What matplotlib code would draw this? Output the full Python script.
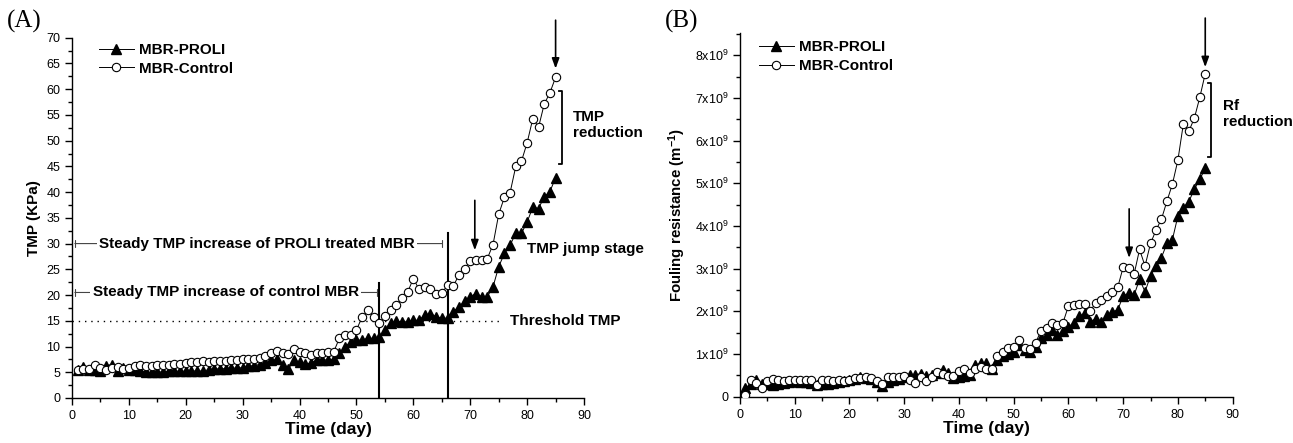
import matplotlib
matplotlib.use("Agg")
import matplotlib.pyplot as plt
from matplotlib.ticker import MultipleLocator, FuncFormatter

plt.rcParams['font.family'] = ['Liberation Sans', 'DejaVu Sans']
plt.rcParams['mathtext.default'] = 'regular'

days = list(range(1, 86))

tmp_control = [5.5, 5.7, 5.6, 6.4, 5.8, 5.5, 5.8, 6.0, 5.6, 5.9, 6.2, 6.5, 6.3, 6.3, 6.4, 6.4, 6.5, 6.6, 6.6, 6.8,
               6.9, 7.0, 7.1, 6.9, 7.1, 7.2, 7.2, 7.3, 7.4, 7.6, 7.5, 7.6, 7.8, 8.2, 8.8, 9.1, 8.8, 8.6, 9.6, 9.0,
               8.7, 8.3, 8.8, 8.8, 8.9, 9.0, 11.6, 12.2, 12.2, 13.2, 15.8, 17.0, 15.8, 14.6, 15.9, 17.0, 18.1, 19.4,
               20.6, 23.2, 21.1, 21.5, 21.1, 20.3, 20.4, 21.9, 21.7, 23.9, 25.0, 26.7, 26.9, 26.8, 27.1, 29.8, 35.7,
               39.0, 39.9, 45.0, 46.0, 49.6, 54.3, 52.6, 57.1, 59.3, 62.3]
tmp_proli = [5.5, 6.1, 5.5, 5.5, 5.3, 6.3, 6.5, 5.2, 5.8, 5.5, 5.5, 5.3, 5.0, 5.0, 5.0, 5.1, 5.2, 5.2, 5.2, 5.2,
             5.2, 5.3, 5.2, 5.5, 5.6, 5.7, 5.7, 5.8, 5.8, 5.9, 6.2, 6.3, 6.5, 6.8, 7.3, 7.5, 6.5, 5.6, 7.3, 7.0,
             6.6, 6.8, 7.4, 7.4, 7.4, 7.5, 8.7, 10.0, 10.9, 11.2, 11.3, 11.6, 11.6, 11.8, 13.2, 14.6, 14.9, 14.8,
             14.8, 15.1, 15.1, 16.1, 16.4, 15.8, 15.5, 15.5, 16.8, 17.7, 18.8, 19.7, 20.3, 19.7, 19.7, 21.6, 25.5,
             28.1, 29.7, 32.0, 32.0, 34.2, 37.1, 36.8, 39.1, 40.1, 42.8]

rf_control = [0.04, 0.39, 0.33, 0.20, 0.37, 0.41, 0.38, 0.37, 0.40, 0.40, 0.40, 0.40, 0.40, 0.27, 0.40, 0.38, 0.37,
              0.40, 0.37, 0.40, 0.43, 0.43, 0.45, 0.43, 0.37, 0.30, 0.46, 0.45, 0.46, 0.48, 0.40, 0.31, 0.45, 0.37,
              0.47, 0.59, 0.54, 0.48, 0.48, 0.61, 0.66, 0.55, 0.66, 0.70, 0.64, 0.64, 0.95, 1.05, 1.13, 1.17, 1.33,
              1.13, 1.11, 1.26, 1.55, 1.60, 1.72, 1.68, 1.73, 2.12, 2.15, 2.17, 2.17, 2.01, 2.20, 2.26, 2.37, 2.46,
              2.56, 3.03, 3.01, 2.87, 3.45, 3.06, 3.59, 3.90, 4.16, 4.58, 4.98, 5.54, 6.39, 6.22, 6.52, 7.01, 7.57]
rf_proli = [0.20, 0.30, 0.39, 0.30, 0.30, 0.28, 0.30, 0.32, 0.35, 0.36, 0.35, 0.35, 0.33, 0.28, 0.30, 0.30, 0.32,
            0.34, 0.36, 0.38, 0.42, 0.47, 0.44, 0.42, 0.35, 0.25, 0.35, 0.38, 0.42, 0.45, 0.50, 0.52, 0.53, 0.48,
            0.50, 0.55, 0.62, 0.55, 0.43, 0.45, 0.48, 0.50, 0.74, 0.78, 0.78, 0.66, 0.86, 0.95, 1.01, 1.05, 1.21,
            1.09, 1.05, 1.17, 1.37, 1.44, 1.56, 1.44, 1.55, 1.64, 1.73, 1.89, 1.95, 1.76, 1.83, 1.76, 1.91, 1.99,
            2.03, 2.36, 2.42, 2.38, 2.75, 2.46, 2.83, 3.06, 3.26, 3.59, 3.68, 4.23, 4.43, 4.57, 4.86, 5.09, 5.35]
rf_scale = 1e9

fig = plt.figure(figsize=(12.93, 4.43), dpi=100)
axA = fig.add_axes([0.0557, 0.1016, 0.396, 0.8133])
axB = fig.add_axes([0.5723, 0.1045, 0.381, 0.821])


def style_axes(ax):
    ax.spines['top'].set_visible(False)
    ax.spines['right'].set_visible(False)
    for s in ('left', 'bottom'):
        ax.spines[s].set_linewidth(1.0)
    ax.tick_params(which='major', direction='out', length=5, width=1, labelsize=9)
    ax.tick_params(which='minor', direction='out', length=3, width=1)
    ax.set_xlim(0, 90)
    ax.xaxis.set_major_locator(MultipleLocator(10))
    ax.xaxis.set_minor_locator(MultipleLocator(5))
    ax.set_xlabel('Time (day)', fontsize=12.5, fontweight='bold', labelpad=0)


def plot_series(ax, yp, yc, anchor):
    ax.plot(days, yp, '-', color='black', lw=0.7, marker='^', ms=6.8, mfc='black', mec='black',
            label='MBR-PROLI', zorder=3)
    ax.plot(days, yc, '-', color='black', lw=0.7, marker='o', ms=6.0, mfc='white', mec='black', mew=0.8,
            label='MBR-Control', zorder=4)
    leg = ax.legend(loc='upper left', bbox_to_anchor=anchor, frameon=False, fontsize=11,
                    handlelength=2.3, handletextpad=0.33, labelspacing=0.3, borderaxespad=0, borderpad=0)
    for t in leg.get_texts():
        t.set_fontweight('bold')


def down_arrow(ax, x, y0, y1):
    ax.annotate('', xy=(x, y1), xytext=(x, y0),
                arrowprops=dict(arrowstyle='-|>,head_length=0.6,head_width=0.22', lw=1.2, color='black',
                                shrinkA=0, shrinkB=0), annotation_clip=False)


def bracket(ax, x, y0, y1, w):
    ax.plot([x - w, x, x, x - w], [y0, y0, y1, y1], color='black', lw=1.3, clip_on=False)


# ---------------- Panel A ----------------
style_axes(axA)
axA.set_ylim(0, 70)
axA.yaxis.set_major_locator(MultipleLocator(5))
axA.yaxis.set_minor_locator(MultipleLocator(2.5))
axA.set_ylabel('TMP (KPa)', fontsize=11, fontweight='bold', labelpad=4)
plot_series(axA, tmp_proli, tmp_control, (0.052, 0.985))

axA.plot([0, 75], [15, 15], color='black', lw=1.0, ls=(0, (1, 3.5)), zorder=1)
axA.text(77, 15, 'Threshold TMP', fontsize=11, fontweight='bold', va='center', ha='left')
axA.plot([54, 54], [0, 22.3], color='black', lw=1.5, zorder=2)
axA.plot([66, 66], [0, 32.0], color='black', lw=1.5, zorder=2)

for y, x1, label in [(20.5, 53.6, 'Steady TMP increase of control MBR'),
                     (30.0, 65.0, 'Steady TMP increase of PROLI treated MBR')]:
    axA.annotate('', xy=(0.5, y), xytext=(x1, y),
                 arrowprops=dict(arrowstyle='|-|,widthA=0.25,widthB=0.25', lw=0.8, color='#444444',
                                 shrinkA=0, shrinkB=0))
    xt = 3.6 if y < 25 else 4.8
    axA.text(xt, y, label, fontsize=11, fontweight='bold', va='center', ha='left',
             bbox=dict(facecolor='white', edgecolor='none', pad=1.5), zorder=5)

axA.text(80, 28.9, 'TMP jump stage', fontsize=11, fontweight='bold', va='center', ha='left')
down_arrow(axA, 70.8, 38.4, 28.7)
down_arrow(axA, 85, 73.4, 64.0)
bracket(axA, 86.1, 59.6, 45.4, 0.5)
axA.text(88.0, 53.0, 'TMP\nreduction', fontsize=11, fontweight='bold', va='center', ha='left',
         linespacing=1.2)
fig.text(0.005, 0.952, '(A)', fontsize=18, family=['Liberation Serif', 'DejaVu Serif'], va='center', ha='left')

# ---------------- Panel B ----------------
style_axes(axB)
axB.set_ylim(0, 8.52e9)
axB.yaxis.set_major_locator(MultipleLocator(1e9))
axB.yaxis.set_minor_locator(MultipleLocator(0.5e9))


def fmt(v, pos):
    n = int(round(v / 1e9))
    if n == 0:
        return '0'
    return '%dx10$^{9}$' % n


axB.yaxis.set_major_formatter(FuncFormatter(fmt))
axB.set_ylabel('Fouling resistance (m$^{-1}$)', fontsize=10.8, fontweight='bold', labelpad=5)
plot_series(axB, [v * rf_scale for v in rf_proli], [v * rf_scale for v in rf_control], (0.038, 0.98))

down_arrow(axB, 71.1, 4.4e9, 3.25e9)
down_arrow(axB, 85, 8.87e9, 7.72e9)
bracket(axB, 86.0, 7.34e9, 5.62e9, 0.5)
axB.text(88.2, 6.63e9, 'Rf\nreduction', fontsize=11, fontweight='bold', va='center', ha='left',
         linespacing=1.2)
fig.text(0.514, 0.952, '(B)', fontsize=18, family=['Liberation Serif', 'DejaVu Serif'], va='center', ha='left')

fig.savefig('out.png', dpi=100)
